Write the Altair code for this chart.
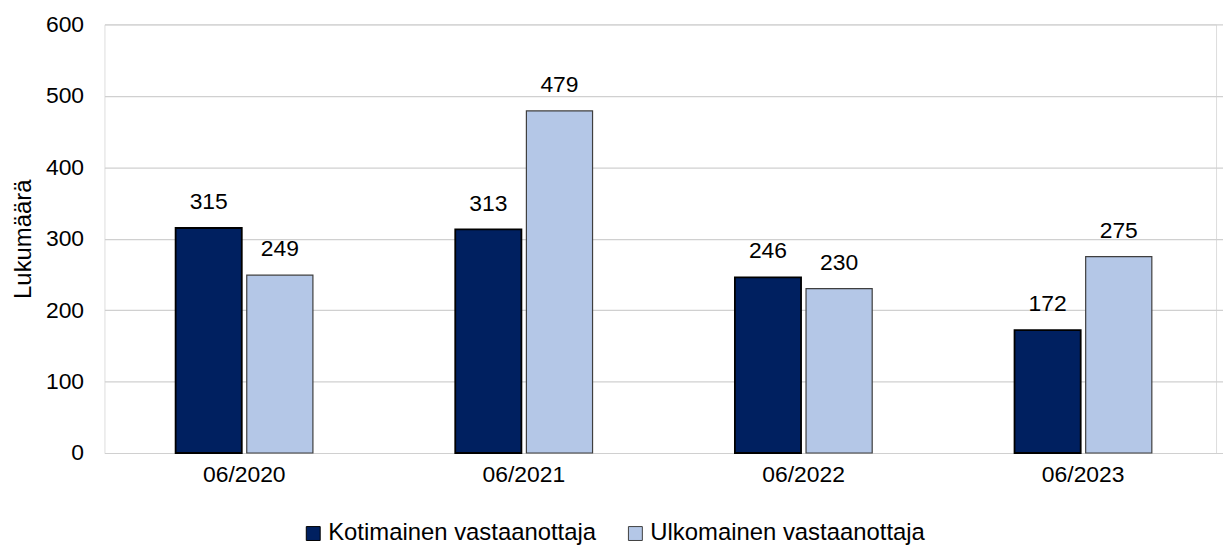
import altair as alt
import pandas as pd

periods = ["06/2020", "06/2021", "06/2022", "06/2023"]
series = ["Kotimainen vastaanottaja", "Ulkomainen vastaanottaja"]
kotimainen = [315, 313, 246, 172]
ulkomainen = [249, 479, 230, 275]
colors = ["#002060", "#B4C7E7"]

rows = []
for p, a, b in zip(periods, kotimainen, ulkomainen):
    rows.append({"period": p, "series": series[0], "value": a})
    rows.append({"period": p, "series": series[1], "value": b})
df = pd.DataFrame(rows)

FONT = "Liberation Sans"

x = alt.X("period:N", sort=periods, title=None,
          scale=alt.Scale(paddingInner=0.509, paddingOuter=0.2545, range=[0, 1125]),
          axis=alt.Axis(labelAngle=0, ticks=False, domain=False, labelPadding=11,
                        labelFontSize=23, labelFont=FONT, labelColor="#000000", grid=False))
xoff = alt.XOffset("series:N", sort=series,
                   scale=alt.Scale(domain=series, paddingInner=0.07, paddingOuter=0))
y = alt.Y("value:Q", title="Lukumäärä",
          scale=alt.Scale(domain=[0, 600], nice=False),
          axis=alt.Axis(values=[0, 100, 200, 300, 400, 500, 600], ticks=False, domain=False,
                        labelPadding=21, labelFontSize=23, labelFont=FONT, labelColor="#000000",
                        titleFontSize=24, titleFont=FONT, titleFontWeight="normal",
                        titleColor="#000000", titlePadding=10,
                        gridColor="#d0d0d0", gridWidth=1.2))

base = alt.Chart(df)

bars = base.mark_bar().encode(
    x=x, xOffset=xoff, y=y,
    fill=alt.Fill("series:N", sort=series,
                  scale=alt.Scale(domain=series, range=colors),
                  legend=alt.Legend(title=None, orient="none", legendX=198, legendY=500,
                                    direction="horizontal", columns=2, symbolType="square",
                                    symbolSize=196, symbolStrokeColor="#000000",
                                    symbolStrokeWidth=1, labelFontSize=24, labelFont=FONT,
                                    labelColor="#000000", labelOffset=3, labelLimit=400,
                                    columnPadding=27, padding=0)),
    stroke=alt.Stroke("series:N", scale=alt.Scale(domain=series, range=["#000000", "#3f3f3f"]),
                      legend=None),
    strokeWidth=alt.condition(alt.datum.series == series[0], alt.value(1.8), alt.value(1.2)),
)

labels = base.mark_text(baseline="alphabetic", dy=-19, fontSize=23, font=FONT,
                        color="#000000").encode(
    x=x, xOffset=xoff, y=y, text=alt.Text("value:Q")
)

chart = alt.layer(bars, labels).properties(
    width=1118, height=431,
    padding={"left": 3, "top": 4, "right": 0, "bottom": 0},
).configure_view(stroke=None).configure(background="#ffffff")

chart.save("out.html", embed_options={"renderer": "svg", "actions": False})
